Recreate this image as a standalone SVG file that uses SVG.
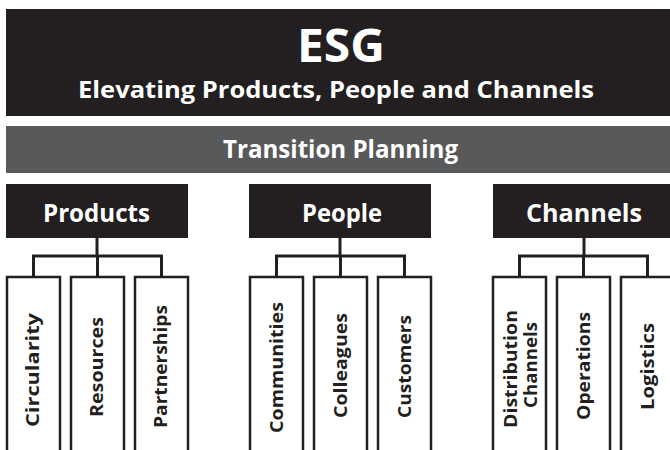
<svg xmlns="http://www.w3.org/2000/svg" width="670" height="450" viewBox="0 0 670 450">
<style>
  .hdr { fill: #231f20; }
  .t { font-family: "Open Sans", Lato, sans-serif; font-weight: 700; fill: #ffffff; text-anchor: middle; font-variant-ligatures: none; }
  .leaf { fill: #ffffff; stroke: #231f20; stroke-width: 2.5; }
  .lt { font-family: "Open Sans", Lato, sans-serif; font-weight: 700; fill: #231f20; text-anchor: middle; font-size: 18.5px; font-variant-ligatures: none; }
  .conn { fill: none; stroke: #231f20; stroke-width: 3; }
</style>
<rect width="670" height="450" fill="#ffffff"/>
<g id="title">
  <rect class="hdr" x="6" y="9" width="670" height="107"/>
  <text class="t" x="341" y="62" font-size="47" textLength="88" lengthAdjust="spacingAndGlyphs">ESG</text>
  <text class="t" x="336" y="98" font-size="23" textLength="516" lengthAdjust="spacingAndGlyphs">Elevating Products, People and Channels</text>
</g>
<g id="transition">
  <rect x="6" y="126" width="670" height="47" fill="#58595b"/>
  <text class="t" x="340.5" y="158" font-size="25" textLength="235" lengthAdjust="spacingAndGlyphs">Transition Planning</text>
</g>
<g id="connectors">
  <path class="conn" d="M97,238 V256 M33.5,277 V256 H161.5 V277 M97.5,256 V277"/>
  <path class="conn" d="M340,238 V256 M276.5,277 V256 H404.5 V277 M340.5,256 V277"/>
  <path class="conn" d="M584,238 V256 M519.5,277 V256 H647.5 V277 M583.5,256 V277"/>
</g>
<g id="products">
  <rect class="hdr" x="6" y="184" width="182" height="54"/>
  <text class="t" x="96.5" y="222" font-size="25" textLength="107" lengthAdjust="spacingAndGlyphs">Products</text>
</g>
<g id="people">
  <rect class="hdr" x="249" y="184" width="182" height="54"/>
  <text class="t" x="342" y="222" font-size="25" textLength="80" lengthAdjust="spacingAndGlyphs">People</text>
</g>
<g id="channels">
  <rect class="hdr" x="493" y="184" width="182" height="54"/>
  <text class="t" x="584" y="222" font-size="25" textLength="116" lengthAdjust="spacingAndGlyphs">Channels</text>
</g>
<g id="circularity">
  <rect class="leaf" x="7" y="277" width="53" height="200"/>
  <text class="lt" transform="translate(38.5,370) rotate(-90)" textLength="114" lengthAdjust="spacingAndGlyphs">Circularity</text>
</g>
<g id="resources">
  <rect class="leaf" x="71" y="277" width="53" height="200"/>
  <text class="lt" transform="translate(103,367) rotate(-90)" textLength="100" lengthAdjust="spacingAndGlyphs">Resources</text>
</g>
<g id="partnerships">
  <rect class="leaf" x="135" y="277" width="53" height="200"/>
  <text class="lt" transform="translate(166.5,366.5) rotate(-90)" textLength="123" lengthAdjust="spacingAndGlyphs">Partnerships</text>
</g>
<g id="communities">
  <rect class="leaf" x="250" y="277" width="53" height="200"/>
  <text class="lt" transform="translate(283,367.5) rotate(-90)" textLength="131" lengthAdjust="spacingAndGlyphs">Communities</text>
</g>
<g id="colleagues">
  <rect class="leaf" x="314" y="277" width="53" height="200"/>
  <text class="lt" transform="translate(346.5,365.5) rotate(-90)" textLength="105" lengthAdjust="spacingAndGlyphs">Colleagues</text>
</g>
<g id="customers">
  <rect class="leaf" x="378" y="277" width="53" height="200"/>
  <text class="lt" transform="translate(410.5,366.5) rotate(-90)" textLength="103" lengthAdjust="spacingAndGlyphs">Customers</text>
</g>
<g id="distribution-channels">
  <rect class="leaf" x="493" y="277" width="53" height="200"/>
  <text class="lt" transform="translate(517,369) rotate(-90)" textLength="118" lengthAdjust="spacingAndGlyphs">Distribution</text>
  <text class="lt" transform="translate(537,365) rotate(-90)" textLength="86" lengthAdjust="spacingAndGlyphs">Channels</text>
</g>
<g id="operations">
  <rect class="leaf" x="557" y="277" width="53" height="200"/>
  <text class="lt" transform="translate(589.5,366) rotate(-90)" textLength="108" lengthAdjust="spacingAndGlyphs">Operations</text>
</g>
<g id="logistics">
  <rect class="leaf" x="621" y="277" width="53" height="200"/>
  <text class="lt" transform="translate(653.5,366.5) rotate(-90)" textLength="87" lengthAdjust="spacingAndGlyphs">Logistics</text>
</g>
</svg>
